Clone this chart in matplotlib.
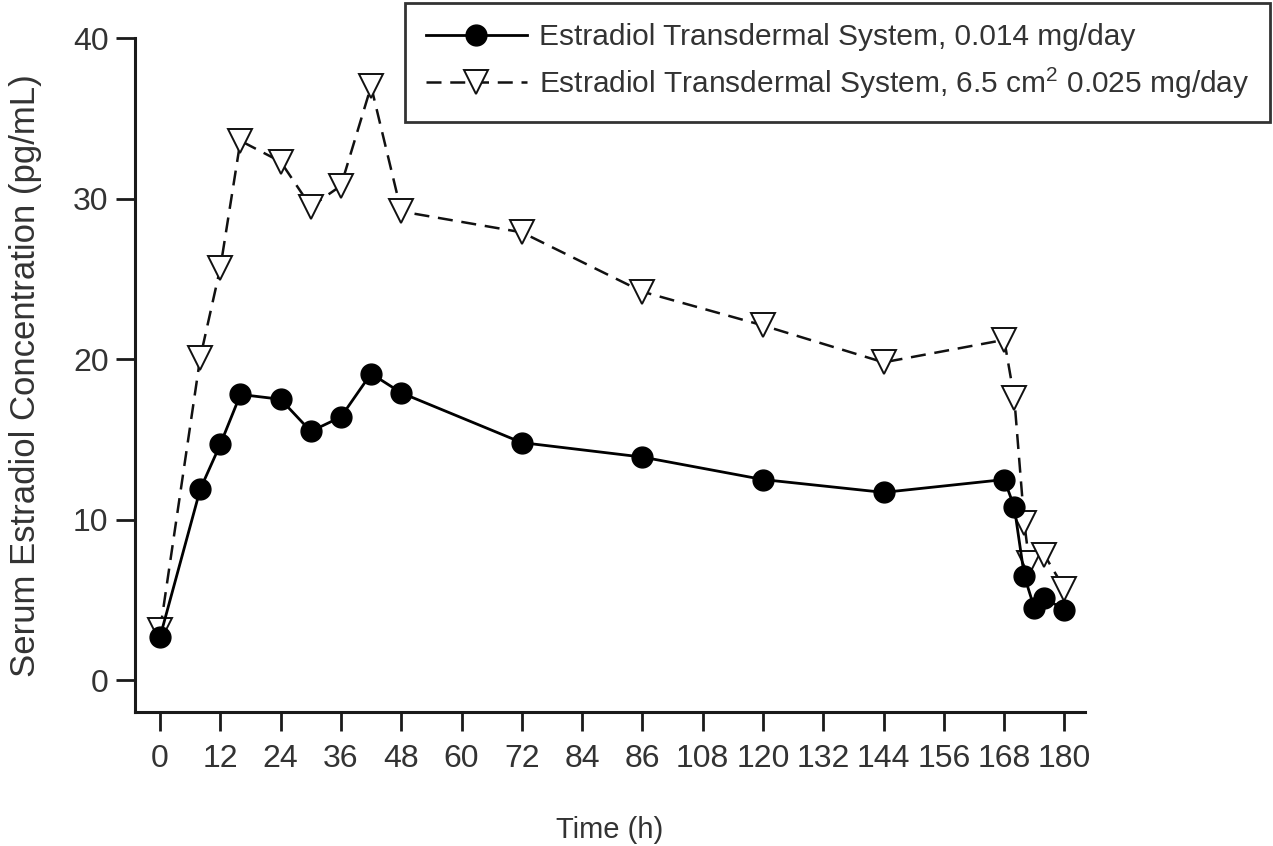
import matplotlib
matplotlib.use('Agg')
import matplotlib.pyplot as plt

# data
time_low = [0, 8, 12, 16, 24, 30, 36, 42, 48, 72, 96, 120, 144, 168, 170, 172, 174, 176, 180]
conc_low = [2.7, 11.9, 14.7, 17.8, 17.5, 15.5, 16.4, 19.1, 17.9, 14.8, 13.9, 12.5, 11.7, 12.5, 10.8, 6.5, 4.5, 5.1, 4.4]

time_high = [0, 8, 12, 16, 24, 30, 36, 42, 48, 72, 96, 120, 144, 168, 170, 172, 173, 176, 180]
conc_high = [3.1, 20.1, 25.7, 33.6, 32.3, 29.5, 30.8, 37.0, 29.2, 27.9, 24.2, 22.1, 19.8, 21.2, 17.6, 9.8, 7.3, 7.8, 5.7]

x_ticks = [0, 12, 24, 36, 48, 60, 72, 84, 96, 108, 120, 132, 144, 156, 168, 180]
x_labels = ['0', '12', '24', '36', '48', '60', '72', '84', '86', '108', '120', '132', '144', '156', '168', '180']
y_ticks = [0, 10, 20, 30, 40]

label_low = 'Estradiol Transdermal System, 0.014 mg/day'
label_high = 'Estradiol Transdermal System, 6.5 cm$^2$ 0.025 mg/day'

plt.rcParams['font.family'] = ['Liberation Sans', 'DejaVu Sans']
plt.rcParams['mathtext.fontset'] = 'custom'
plt.rcParams['mathtext.rm'] = 'Liberation Sans'
txt = '#333333'

fig = plt.figure(figsize=(12.73, 8.46), dpi=100)
ax = fig.add_axes([0.106, 0.158, 0.746, 0.797])

ax.plot(time_low, conc_low, color='black', linewidth=2, marker='o', markersize=15,
        markerfacecolor='black', markeredgecolor='black', label=label_low, zorder=3)
ax.plot(time_high, conc_high, color='#111111', linewidth=1.8, linestyle=(0, (6, 3.5)),
        marker='v', markersize=17, markerfacecolor='white', markeredgecolor='#111111',
        markeredgewidth=1.4, label=label_high, zorder=2)

ax.set_xlim(-5, 184)
ax.set_ylim(-2, 40)
ax.set_xticks(x_ticks)
ax.set_xticklabels(x_labels)
ax.set_yticks(y_ticks)

for s in ['top', 'right']:
    ax.spines[s].set_visible(False)
for s in ['left', 'bottom']:
    ax.spines[s].set_linewidth(2.2)
    ax.spines[s].set_color('#1a1a1a')

ax.tick_params(axis='both', direction='out', length=14, width=2, color='#1a1a1a',
               labelsize=23, labelcolor=txt)
ax.tick_params(axis='y', pad=5)
ax.tick_params(axis='x', pad=9)

ax.set_xlabel('Time (h)', fontsize=21, color=txt, labelpad=30)
ax.set_ylabel('Serum Estradiol Concentration (pg/mL)', fontsize=25, color=txt, labelpad=22)

leg = ax.legend(loc='upper right', bbox_to_anchor=(0.998, 0.997), bbox_transform=fig.transFigure,
                fontsize=21.5, frameon=True, fancybox=False, handlelength=3.4,
                borderpad=0.7, labelspacing=0.45, handletextpad=0.4, borderaxespad=0)
leg.get_frame().set_edgecolor('black')
leg.get_frame().set_linewidth(2)
for t in leg.get_texts():
    t.set_color(txt)

plt.savefig('out.png', dpi=100)
plt.close()
